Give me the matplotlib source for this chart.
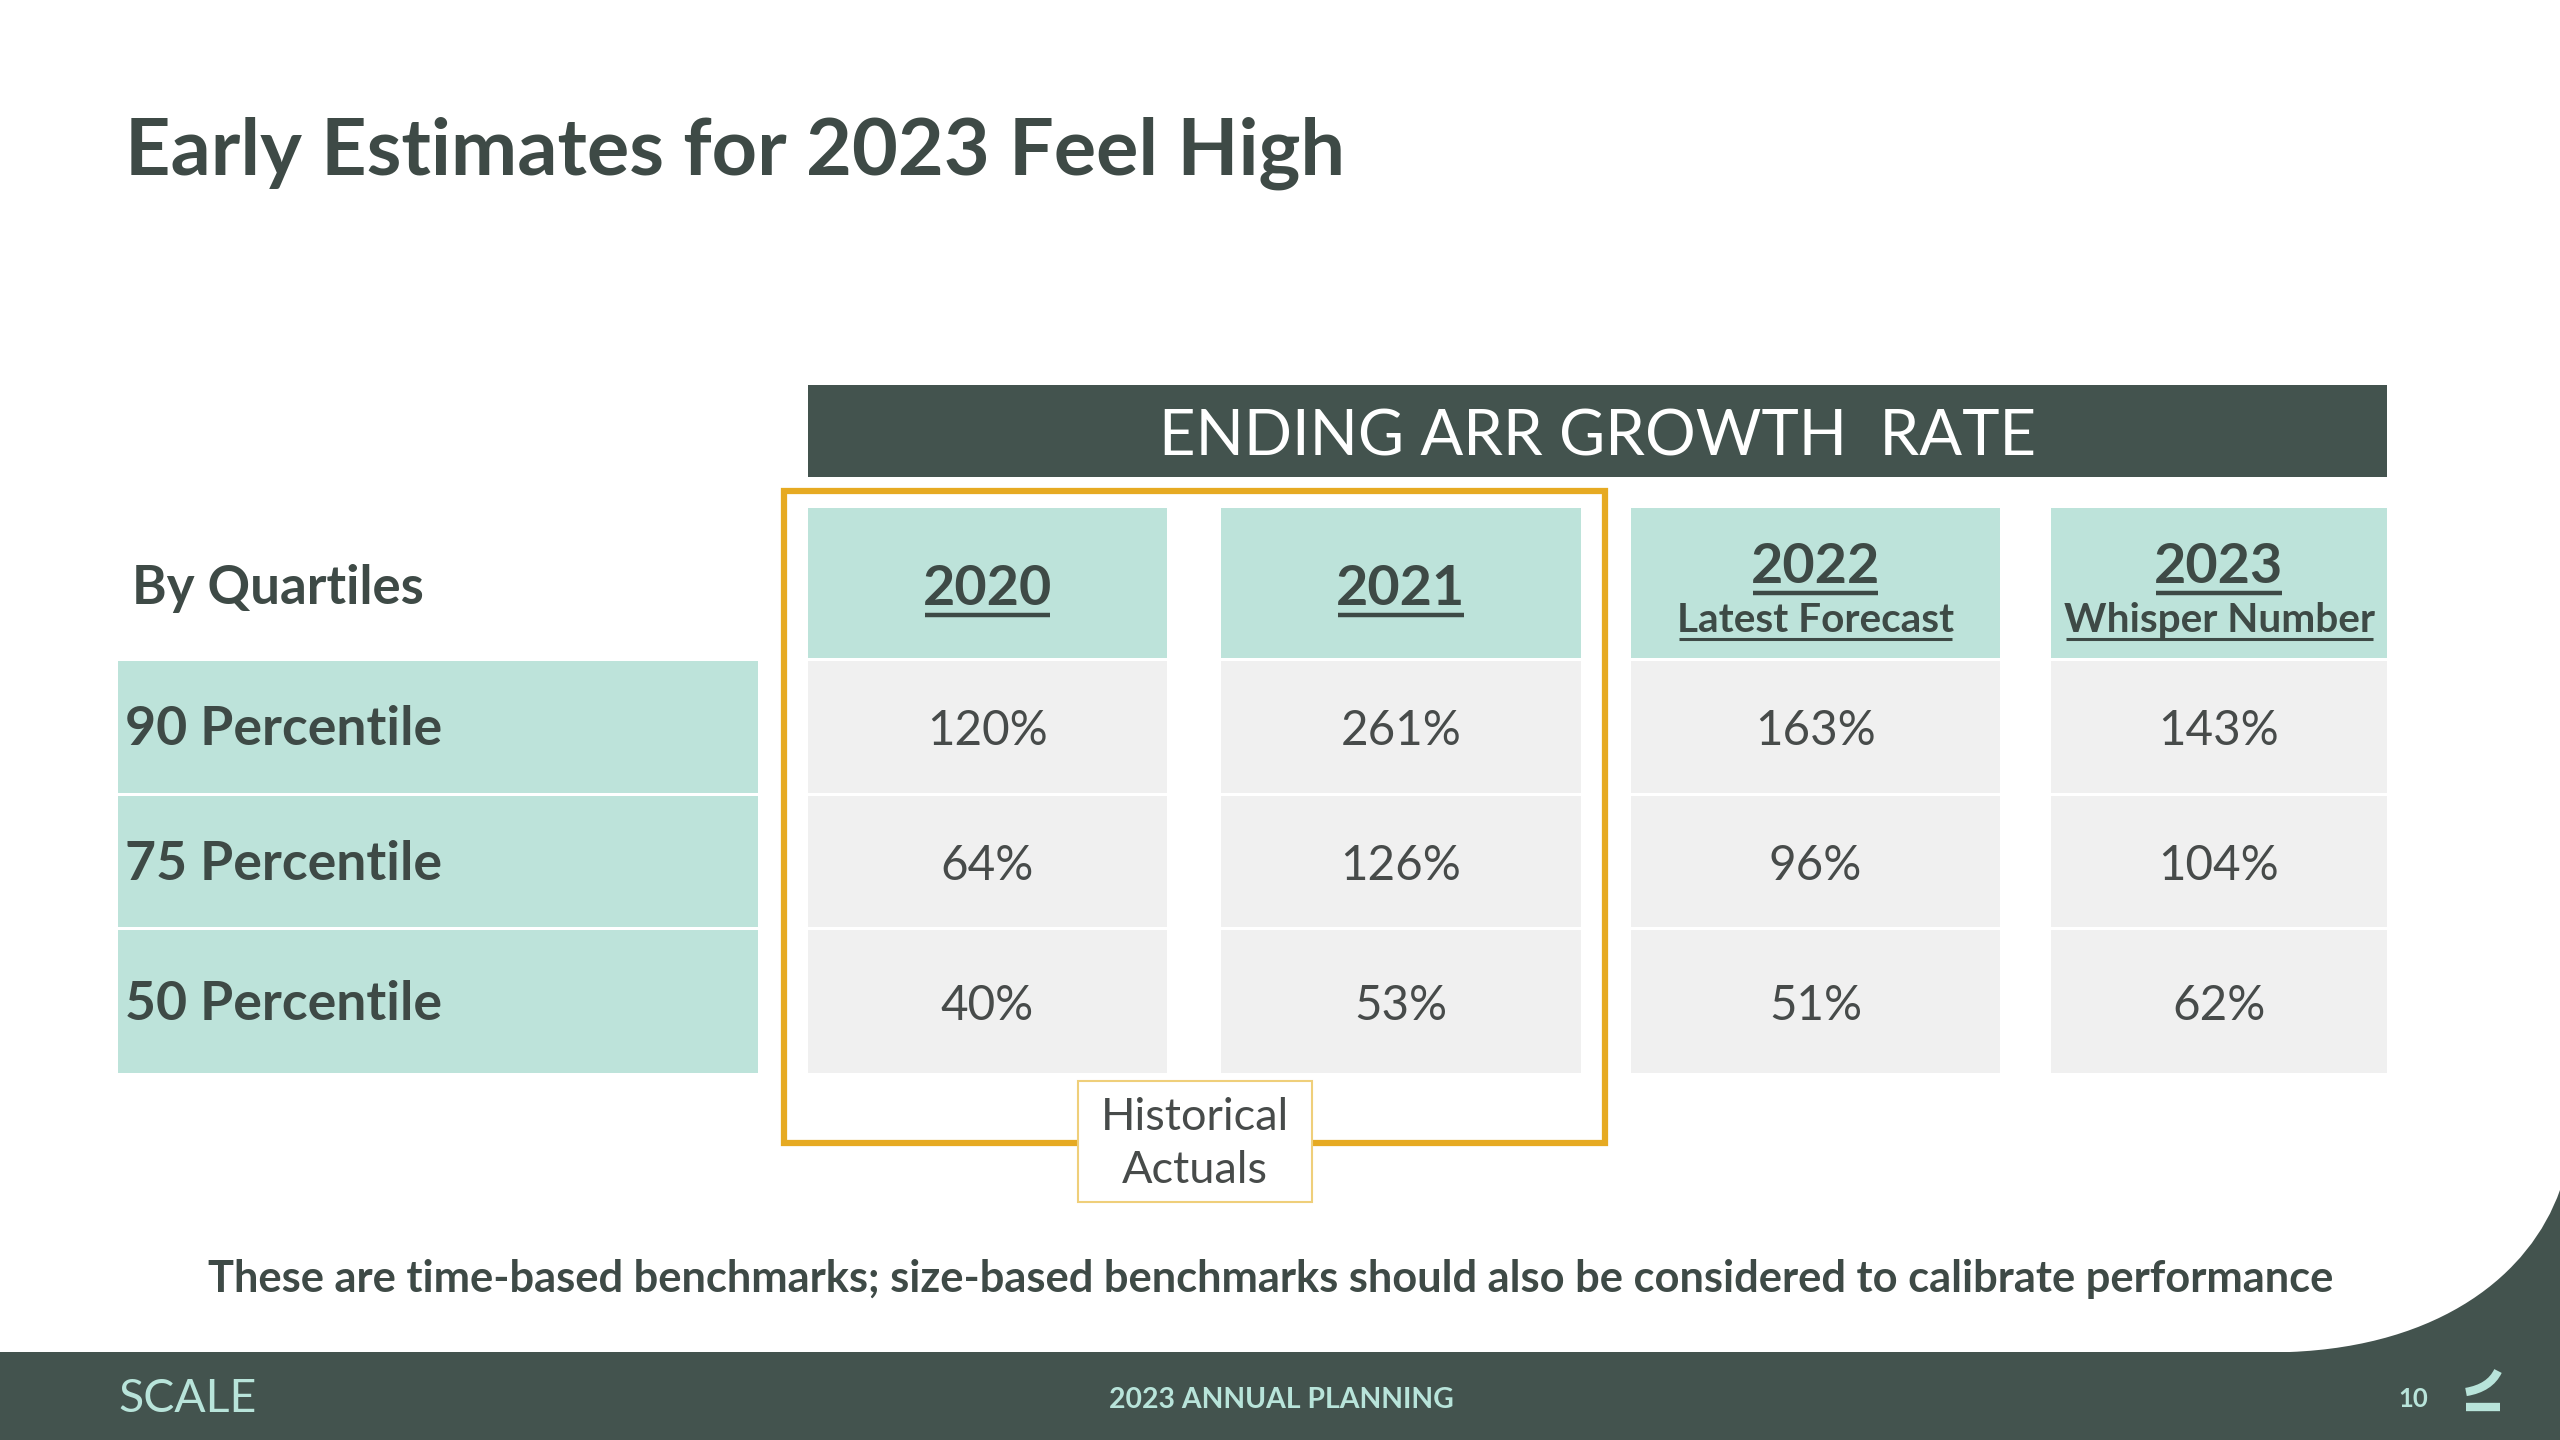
import matplotlib
matplotlib.use("Agg")
import matplotlib.pyplot as plt
from matplotlib.patches import Rectangle, PathPatch
from matplotlib.path import Path

# ============== DATA ==============
TITLE      = "Early Estimates for 2023 Feel High"
HEADER     = "ENDING ARR GROWTH  RATE"
CORNER     = "By Quartiles"
ROW_LABELS = ["90 Percentile", "75 Percentile", "50 Percentile"]
YEARS      = ["2020", "2021", "2022", "2023"]
SUBTITLES  = ["", "", "Latest Forecast", "Whisper Number"]
GROWTH_2020 = [120, 64, 40]
GROWTH_2021 = [261, 126, 53]
GROWTH_2022 = [163, 96, 51]
GROWTH_2023 = [143, 104, 62]
CALLOUT    = ["Historical", "Actuals"]
NOTE       = "These are time-based benchmarks; size-based benchmarks should also be considered to calibrate performance"
FOOTER     = ["SCALE", "2023 ANNUAL PLANNING", "10"]
# ==================================

# ============== STYLE ==============
W, H   = 2560, 1440
FONT   = "Lato"
DARK   = "#43534e"
TEAL   = "#bde3da"
GREY   = "#f0f0f0"
GOLD   = "#e6aa22"
GOLD_L = "#efcf7a"
TEXT   = "#3e4a46"
VALTXT = "#474b4a"
FOOTTX = "#b8e4da"

COL_X  = [(808, 1167), (1221, 1581), (1631, 2000), (2051, 2387)]
ROW_Y  = [(661, 793), (796, 927), (930, 1073)]
HEAD_Y = (508, 658)
LABEL_X = (118, 758)
# ====================================

values = [GROWTH_2020, GROWTH_2021, GROWTH_2022, GROWTH_2023]

fig = plt.figure(figsize=(W / 100, H / 100), dpi=100)
ax = fig.add_axes([0, 0, 1, 1])
ax.set_xlim(0, W)
ax.set_ylim(H, 0)
ax.axis("off")


def txt(x, y, s, ha="left", weight="normal", color=TEXT, size=30):
    return ax.text(x, y, s, ha=ha, va="baseline", family=FONT,
                   fontweight=weight, color=color, fontsize=size, zorder=5)


def box(x0, x1, y0, y1, color, **kw):
    ax.add_patch(Rectangle((x0, y0), x1 - x0, y1 - y0, facecolor=color,
                           edgecolor="none", **kw))


# title
t_title = txt(125, 175, TITLE, weight="bold", size=56)

# header bar
box(808, 2387, 385, 477, DARK)
t_head = txt((808 + 2387) / 2, 455, HEADER, ha="center", color="white", size=46)

# corner + row labels
t_corner = txt(132, 604, CORNER, weight="bold", size=34)
t_rows = []
for i, lab in enumerate(ROW_LABELS):
    y0, y1 = ROW_Y[i]
    box(LABEL_X[0], LABEL_X[1], y0, y1, TEAL)
    t_rows.append(txt(125, (y0 + y1) / 2 + 18, lab, weight="bold", size=34))

# column headers + cells
t_years, t_subs, t_vals = [], [], []
for j, yr in enumerate(YEARS):
    x0, x1 = COL_X[j]
    xc = (x0 + x1) / 2
    box(x0, x1, HEAD_Y[0], HEAD_Y[1], TEAL)
    if SUBTITLES[j]:
        t_years.append(txt(xc, 583, yr, ha="center", weight="bold", size=40))
        t_subs.append(txt(xc, 632, SUBTITLES[j], ha="center", weight="bold", size=26))
    else:
        t_years.append(txt(xc, 605, yr, ha="center", weight="bold", size=40))
    for i, v in enumerate(values[j]):
        y0, y1 = ROW_Y[i]
        box(x0, x1, y0, y1, GREY)
        t_vals.append(txt(xc, (y0 + y1) / 2 + 18, f"{v}%", ha="center",
                          color=VALTXT, size=38))

# gold frame around historical columns
ax.add_patch(Rectangle((784, 491), 1605 - 784, 1143 - 491, facecolor="none",
                       edgecolor=GOLD, lw=4.5, zorder=4))
ax.add_patch(Rectangle((1078, 1081), 1312 - 1078, 1202 - 1081, facecolor="white",
                       edgecolor=GOLD_L, lw=1.5, zorder=4.5))
t_call = [txt(1195, 1130, CALLOUT[0], ha="center", color=VALTXT, size=32),
          txt(1195, 1183, CALLOUT[1], ha="center", color=VALTXT, size=32)]

# footnote
t_note = txt(1271, 1292, NOTE, ha="center", weight="bold", size=30)

# footer band with curved corner
verts = [(0, 1352), (2290, 1352), (2440, 1346), (2530, 1275), (2560, 1190),
         (2560, H), (0, H), (0, 1352)]
codes = [Path.MOVETO, Path.LINETO, Path.CURVE4, Path.CURVE4, Path.CURVE4,
         Path.LINETO, Path.LINETO, Path.CLOSEPOLY]
ax.add_patch(PathPatch(Path(verts, codes), facecolor=DARK, edgecolor="none", zorder=1))
t_scale = txt(118, 1412, FOOTER[0], color=FOOTTX, size=30)
t_plan = txt(1281, 1408, FOOTER[1], ha="center", weight="bold", color=FOOTTX, size=20)
t_page = txt(2398, 1407, FOOTER[2], weight="bold", color=FOOTTX, size=20)

# little logo
ax.plot([2466, 2500], [1407, 1407], color=FOOTTX, lw=6, solid_capstyle="butt", zorder=5)
logo = Path([(2466, 1392), (2490, 1388), (2498, 1371)],
            [Path.MOVETO, Path.CURVE3, Path.CURVE3])
ax.add_patch(PathPatch(logo, facecolor="none", edgecolor=FOOTTX, lw=6,
                       capstyle="butt", zorder=5))

# ---- fit font sizes to the widths measured on the slide ----
fig.canvas.draw()
rend = fig.canvas.get_renderer()


def fit(group, width):
    w = group[0].get_window_extent(rend).width
    size = group[0].get_fontsize() * width / w
    for t in group:
        t.set_fontsize(size)


fit([t_title], 1221)
fit([t_head], 878)
fit([t_corner], 292)
fit(t_rows, 317)
fit(t_years, 129)
fit(t_subs, 277)
fit(t_vals, 121)
fit(t_call, 189)
fit([t_note], 2118)
fit([t_scale], 138)
fit([t_plan], 344)
fit([t_page], 30)

# underline the column headers
inv = ax.transData.inverted()
for t, dy in [(t, 10) for t in t_years] + [(t, 7) for t in t_subs]:
    bb = t.get_window_extent(rend)
    (xa, _), (xb, _) = inv.transform([(bb.x0, bb.y0), (bb.x1, bb.y0)])
    yb = t.get_position()[1] + dy
    lw = 3.2 if t in t_years else 2.2
    ax.plot([xa + 2, xb - 2], [yb, yb], color=TEXT, lw=lw, solid_capstyle="butt", zorder=5)

fig.savefig("out.png", dpi=100, facecolor="white")
